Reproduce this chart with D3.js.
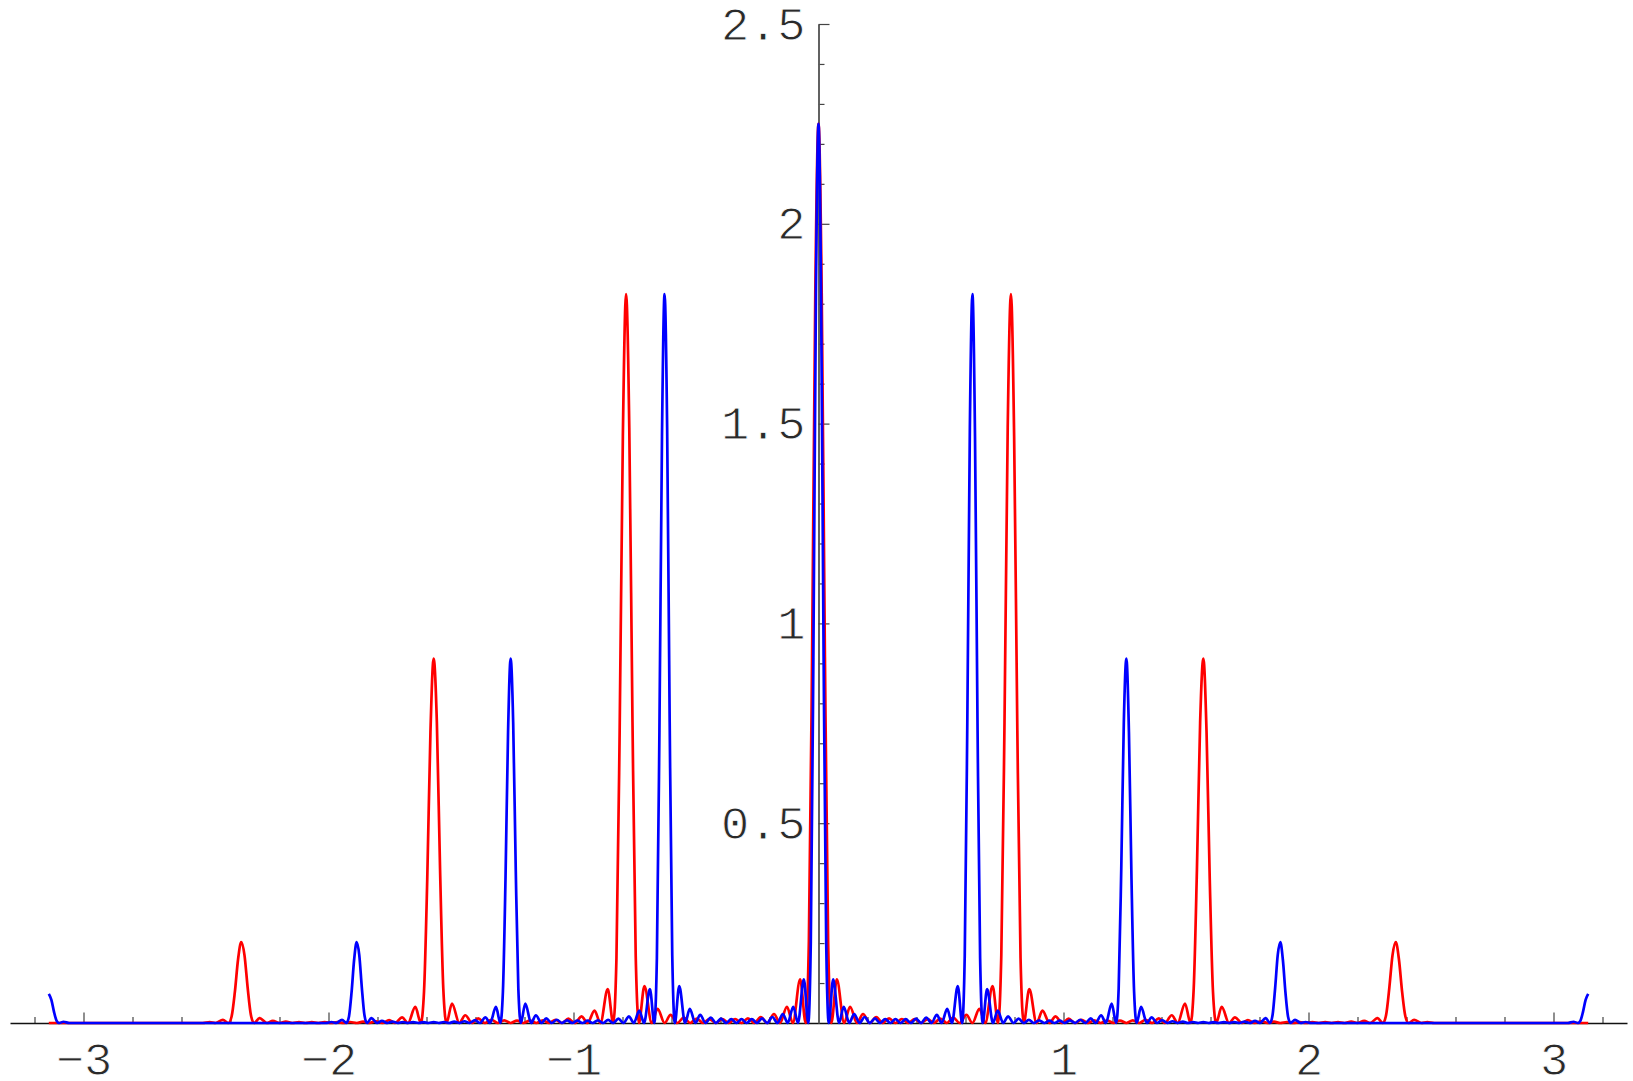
<!DOCTYPE html>
<html>
<head>
<meta charset="utf-8">
<script src="https://cdn.jsdelivr.net/npm/d3@7"></script>
<style>
  html, body { margin: 0; padding: 0; background: #ffffff; }
  svg { display: block; }
</style>
</head>
<body>
<svg id="chart" width="1633" height="1081"></svg>
<script>
// ---- tick data ----
const xMajorTicks = [-3, -2, -1, 1, 2, 3];
const xTickLabels = ["\u22123", "\u22122", "\u22121", "1", "2", "3"];
const xMinorTicks = [-3.2, -2.8, -2.6, -2.4, -2.2, -1.8, -1.6, -1.4, -1.2, -0.8, -0.6, -0.4, -0.2,
                     0.2, 0.4, 0.6, 0.8, 1.2, 1.4, 1.6, 1.8, 2.2, 2.4, 2.6, 2.8, 3.2];
const yMajorTicks = [0.5, 1, 1.5, 2, 2.5];
const yTickLabels = ["0.5", "1", "1.5", "2", "2.5"];
const yMinorTicks = [0.1, 0.2, 0.3, 0.4, 0.6, 0.7, 0.8, 0.9, 1.1, 1.2, 1.3, 1.4, 1.6, 1.7, 1.8, 1.9,
                     2.1, 2.2, 2.3, 2.4];

// ---- red series (x, intensity) ----
const redLeft = [[-3.1416,0],[-2.5133,0],[-2.485,0.0025],[-2.4609,0],[-2.4311,0.0079],[-2.4086,0],[-2.3955,0.0164],[-2.3824,0.0764],[-2.3693,0.1583],[-2.3562,0.2026],[-2.3431,0.1705],[-2.33,0.0887],[-2.3169,0.0206],[-2.3038,0],[-2.2813,0.0121],[-2.2515,0],[-2.2274,0.0052],[-2.1991,0],[-2.1745,0.0033],[-2.1468,0],[-2.1206,0.0025],[-2.0944,0],[-2.0682,0.0022],[-2.042,0],[-2.0159,0.0021],[-1.9897,0],[-1.9635,0.0022],[-1.9373,0],[-1.9111,0.0025],[-1.885,0],[-1.8588,0.0032],[-1.8326,0],[-1.8064,0.0044],[-1.7802,0],[-1.7525,0.0072],[-1.7279,0],[-1.6996,0.0139],[-1.6755,0],[-1.6457,0.0402],[-1.6232,0],[-1.6101,0.0787],[-1.597,0.3586],[-1.5839,0.7273],[-1.5708,0.9119],[-1.5577,0.7521],[-1.5446,0.3834],[-1.5315,0.087],[-1.5184,0],[-1.4959,0.0486],[-1.4661,0],[-1.442,0.0194],[-1.4137,0],[-1.3891,0.0114],[-1.3614,0],[-1.3352,0.0081],[-1.309,0],[-1.2828,0.0067],[-1.2566,0],[-1.2305,0.0061],[-1.2043,0],[-1.1781,0.0061],[-1.1519,0],[-1.1257,0.0067],[-1.0996,0],[-1.0734,0.008],[-1.0472,0],[-1.021,0.0107],[-0.9948,0],[-0.9671,0.0165],[-0.9425,0],[-0.9142,0.0308],[-0.8901,0],[-0.8603,0.0849],[-0.8378,0],[-0.8247,0.162],[-0.8116,0.7312],[-0.7985,1.4686],[-0.7854,1.8238],[-0.7723,1.4894],[-0.7592,0.7524],[-0.7461,0.1691],[-0.733,0],[-0.7105,0.0921],[-0.6807,0],[-0.6566,0.0354],[-0.6283,0],[-0.6037,0.0201],[-0.576,0],[-0.5498,0.0138],[-0.5236,0],[-0.4974,0.011],[-0.4712,0],[-0.4451,0.0098],[-0.4189,0],[-0.3927,0.0095],[-0.3665,0],[-0.3403,0.01],[-0.3142,0],[-0.288,0.0116],[-0.2618,0],[-0.2356,0.015],[-0.2094,0],[-0.1817,0.0225],[-0.1571,0],[-0.1288,0.0407],[-0.1047,0],[-0.0749,0.109],[-0.0524,0],[-0.0393,0.204],[-0.0262,0.915],[-0.0131,1.825]];
const redRight = [[0,2.25],[0.0131,1.825],[0.0262,0.915],[0.0393,0.204],[0.0524,0],[0.0749,0.109],[0.1047,0],[0.1288,0.0407],[0.1571,0],[0.1817,0.0225],[0.2094,0],[0.2356,0.015],[0.2618,0],[0.288,0.0116],[0.3142,0],[0.3403,0.01],[0.3665,0],[0.3927,0.0095],[0.4189,0],[0.4451,0.0098],[0.4712,0],[0.4974,0.011],[0.5236,0],[0.5498,0.0138],[0.576,0],[0.6037,0.0201],[0.6283,0],[0.6566,0.0354],[0.6807,0],[0.7105,0.0921],[0.733,0],[0.7461,0.1691],[0.7592,0.7524],[0.7723,1.4894],[0.7854,1.8238],[0.7985,1.4686],[0.8116,0.7312],[0.8247,0.162],[0.8378,0],[0.8603,0.0849],[0.8901,0],[0.9142,0.0308],[0.9425,0],[0.9671,0.0165],[0.9948,0],[1.021,0.0107],[1.0472,0],[1.0734,0.008],[1.0996,0],[1.1257,0.0067],[1.1519,0],[1.1781,0.0061],[1.2043,0],[1.2305,0.0061],[1.2566,0],[1.2828,0.0067],[1.309,0],[1.3352,0.0081],[1.3614,0],[1.3891,0.0114],[1.4137,0],[1.442,0.0194],[1.4661,0],[1.4959,0.0486],[1.5184,0],[1.5315,0.087],[1.5446,0.3834],[1.5577,0.7521],[1.5708,0.9119],[1.5839,0.7273],[1.597,0.3586],[1.6101,0.0787],[1.6232,0],[1.6457,0.0402],[1.6755,0],[1.6996,0.0139],[1.7279,0],[1.7525,0.0072],[1.7802,0],[1.8064,0.0044],[1.8326,0],[1.8588,0.0032],[1.885,0],[1.9111,0.0025],[1.9373,0],[1.9635,0.0022],[1.9897,0],[2.0159,0.0021],[2.042,0],[2.0682,0.0022],[2.0944,0],[2.1206,0.0025],[2.1468,0],[2.1745,0.0033],[2.1991,0],[2.2274,0.0052],[2.2515,0],[2.2813,0.0121],[2.3038,0],[2.3169,0.0206],[2.33,0.0887],[2.3431,0.1705],[2.3562,0.2026],[2.3693,0.1583],[2.3824,0.0764],[2.3955,0.0164],[2.4086,0],[2.4311,0.0079],[2.4609,0],[2.485,0.0025],[2.5133,0],[3.1416,0]];

// ---- blue series (x, intensity) ----
const blueLeft = [[-3.1416,0.0729],[-3.1311,0.058],[-3.1206,0.0285],[-3.1102,0.0062],[-3.0997,0],[-3.0817,0.0031],[-3.0578,0],[-2.0106,0],[-1.988,0.0025],[-1.9687,0],[-1.9449,0.0079],[-1.9268,0],[-1.9164,0.0164],[-1.9059,0.0764],[-1.8954,0.1583],[-1.885,0.2026],[-1.8745,0.1705],[-1.864,0.0887],[-1.8535,0.0206],[-1.8431,0],[-1.8251,0.0121],[-1.8012,0],[-1.7819,0.0052],[-1.7593,0],[-1.7396,0.0033],[-1.7174,0],[-1.6965,0.0025],[-1.6755,0],[-1.6546,0.0022],[-1.6336,0],[-1.6127,0.0021],[-1.5917,0],[-1.5708,0.0022],[-1.5499,0],[-1.5289,0.0025],[-1.508,0],[-1.487,0.0032],[-1.4661,0],[-1.4451,0.0044],[-1.4242,0],[-1.402,0.0072],[-1.3823,0],[-1.3597,0.0139],[-1.3404,0],[-1.3166,0.0402],[-1.2985,0],[-1.2881,0.0787],[-1.2776,0.3586],[-1.2671,0.7273],[-1.2566,0.9119],[-1.2462,0.7521],[-1.2357,0.3834],[-1.2252,0.087],[-1.2148,0],[-1.1967,0.0486],[-1.1729,0],[-1.1536,0.0194],[-1.131,0],[-1.1113,0.0114],[-1.0891,0],[-1.0681,0.0081],[-1.0472,0],[-1.0263,0.0067],[-1.0053,0],[-0.9844,0.0061],[-0.9634,0],[-0.9425,0.0061],[-0.9215,0],[-0.9006,0.0067],[-0.8796,0],[-0.8587,0.008],[-0.8378,0],[-0.8168,0.0107],[-0.7959,0],[-0.7737,0.0165],[-0.754,0],[-0.7314,0.0308],[-0.7121,0],[-0.6882,0.0849],[-0.6702,0],[-0.6597,0.162],[-0.6493,0.7312],[-0.6388,1.4686],[-0.6283,1.8238],[-0.6178,1.4894],[-0.6074,0.7524],[-0.5969,0.1691],[-0.5864,0],[-0.5684,0.0921],[-0.5445,0],[-0.5253,0.0354],[-0.5027,0],[-0.483,0.0201],[-0.4608,0],[-0.4398,0.0138],[-0.4189,0],[-0.3979,0.011],[-0.377,0],[-0.356,0.0098],[-0.3351,0],[-0.3142,0.0095],[-0.2932,0],[-0.2723,0.01],[-0.2513,0],[-0.2304,0.0116],[-0.2094,0],[-0.1885,0.015],[-0.1676,0],[-0.1454,0.0225],[-0.1257,0],[-0.103,0.0407],[-0.0838,0],[-0.0599,0.109],[-0.0419,0],[-0.0314,0.204],[-0.0209,0.915],[-0.0105,1.825]];
const blueRight = [[0,2.25],[0.0105,1.825],[0.0209,0.915],[0.0314,0.204],[0.0419,0],[0.0599,0.109],[0.0838,0],[0.103,0.0407],[0.1257,0],[0.1454,0.0225],[0.1676,0],[0.1885,0.015],[0.2094,0],[0.2304,0.0116],[0.2513,0],[0.2723,0.01],[0.2932,0],[0.3142,0.0095],[0.3351,0],[0.356,0.0098],[0.377,0],[0.3979,0.011],[0.4189,0],[0.4398,0.0138],[0.4608,0],[0.483,0.0201],[0.5027,0],[0.5253,0.0354],[0.5445,0],[0.5684,0.0921],[0.5864,0],[0.5969,0.1691],[0.6074,0.7524],[0.6178,1.4894],[0.6283,1.8238],[0.6388,1.4686],[0.6493,0.7312],[0.6597,0.162],[0.6702,0],[0.6882,0.0849],[0.7121,0],[0.7314,0.0308],[0.754,0],[0.7737,0.0165],[0.7959,0],[0.8168,0.0107],[0.8378,0],[0.8587,0.008],[0.8796,0],[0.9006,0.0067],[0.9215,0],[0.9425,0.0061],[0.9634,0],[0.9844,0.0061],[1.0053,0],[1.0263,0.0067],[1.0472,0],[1.0681,0.0081],[1.0891,0],[1.1113,0.0114],[1.131,0],[1.1536,0.0194],[1.1729,0],[1.1967,0.0486],[1.2148,0],[1.2252,0.087],[1.2357,0.3834],[1.2462,0.7521],[1.2566,0.9119],[1.2671,0.7273],[1.2776,0.3586],[1.2881,0.0787],[1.2985,0],[1.3166,0.0402],[1.3404,0],[1.3597,0.0139],[1.3823,0],[1.402,0.0072],[1.4242,0],[1.4451,0.0044],[1.4661,0],[1.487,0.0032],[1.508,0],[1.5289,0.0025],[1.5499,0],[1.5708,0.0022],[1.5917,0],[1.6127,0.0021],[1.6336,0],[1.6546,0.0022],[1.6755,0],[1.6965,0.0025],[1.7174,0],[1.7396,0.0033],[1.7593,0],[1.7819,0.0052],[1.8012,0],[1.8251,0.0121],[1.8431,0],[1.8535,0.0206],[1.864,0.0887],[1.8745,0.1705],[1.885,0.2026],[1.8954,0.1583],[1.9059,0.0764],[1.9164,0.0164],[1.9268,0],[1.9449,0.0079],[1.9687,0],[1.988,0.0025],[2.0106,0],[3.0578,0],[3.0817,0.0031],[3.0997,0],[3.1102,0.0062],[3.1206,0.0285],[3.1311,0.058],[3.1416,0.0729]];

const series = [
  { name: "red",  color: "#ff0000", points: redLeft.concat(redRight) },
  { name: "blue", color: "#0000ff", points: blueLeft.concat(blueRight) }
];

// ---- layout ----
const svg = d3.select("#chart");
const x = d3.scaleLinear().domain([-3.3, 3.3]).range([10, 1627]);
const y = d3.scaleLinear().domain([0, 2.5]).range([1023, 24]);
const FONT = "'Liberation Mono', 'DejaVu Sans Mono', monospace";

function styleLabels(sel) {
  sel.attr("font-family", FONT).attr("font-size", 47).attr("fill", "#2a2a2a")
     .attr("stroke", "#ffffff").attr("stroke-width", 0.9);
}

// x axis: minor ticks
const gxMinor = svg.append("g").attr("transform", `translate(0,${y(0)})`)
  .call(d3.axisBottom(x).tickValues(xMinorTicks).tickSizeInner(-6).tickSizeOuter(0).tickFormat(""));
gxMinor.select(".domain").remove();
gxMinor.selectAll(".tick line").attr("stroke", "#444").attr("stroke-width", 1.2);

// x axis: major ticks + labels
const gx = svg.append("g").attr("transform", `translate(0,${y(0)})`)
  .call(d3.axisBottom(x).tickValues(xMajorTicks).tickSizeInner(-10.5).tickSizeOuter(0).tickPadding(19)
    .tickFormat((d, i) => xTickLabels[i]));
gx.select(".domain").attr("stroke", "#111").attr("stroke-width", 1.4);
gx.selectAll(".tick line").attr("stroke", "#444").attr("stroke-width", 1.2);
gx.selectAll(".tick text").call(styleLabels);

// y axis: minor ticks
const gyMinor = svg.append("g").attr("transform", `translate(${x(0)},0)`)
  .call(d3.axisLeft(y).tickValues(yMinorTicks).tickSizeInner(-6).tickSizeOuter(0).tickFormat(""));
gyMinor.select(".domain").remove();
gyMinor.selectAll(".tick line").attr("stroke", "#444").attr("stroke-width", 1.2);

// y axis: major ticks + labels
const gy = svg.append("g").attr("transform", `translate(${x(0)},0)`)
  .call(d3.axisLeft(y).tickValues(yMajorTicks).tickSizeInner(-11).tickSizeOuter(0).tickPadding(13)
    .tickFormat((d, i) => yTickLabels[i]));
gy.select(".domain").attr("stroke", "#5a5a5a").attr("stroke-width", 1.9);
gy.selectAll(".tick line").attr("stroke", "#444").attr("stroke-width", 1.2);
gy.selectAll(".tick text").call(styleLabels);

// curves
const line = d3.line().x(d => x(d[0])).y(d => y(d[1])).curve(d3.curveMonotoneX);
svg.append("g").selectAll("path").data(series).join("path")
  .attr("d", d => line(d.points))
  .attr("fill", "none")
  .attr("stroke", d => d.color)
  .attr("stroke-width", 2.7)
  .attr("stroke-linejoin", "round");
</script>
</body>
</html>
